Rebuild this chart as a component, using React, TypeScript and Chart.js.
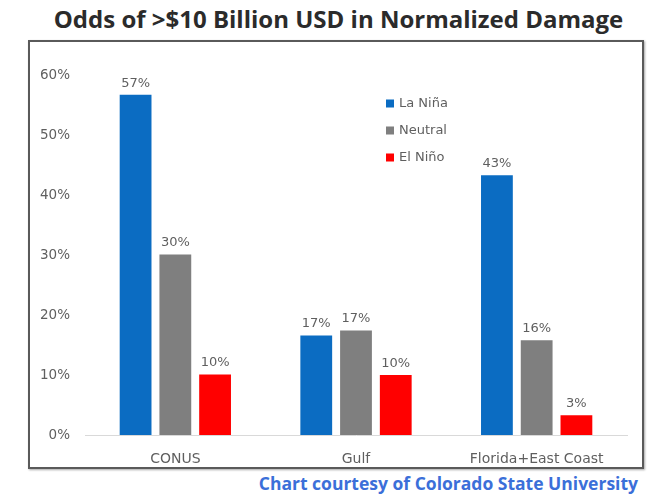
import React, { useEffect, useRef } from "react";
import { Chart, registerables } from "chart.js";

Chart.register(...registerables);

const chartTitle = "Odds of >$10 Billion USD in Normalized Damage";
const creditText = "Chart courtesy of Colorado State University";
const categories = ["CONUS", "Gulf", "Florida+East Coast"];
const seriesNames = ["La Niña", "Neutral", "El Niño"];
const laNinaValues = [56.7, 16.6, 43.3];
const neutralValues = [30.1, 17.4, 15.8];
const elNinoValues = [10.1, 10.0, 3.3];
const yTickValues = [0, 10, 20, 30, 40, 50, 60];

const seriesColors = ["#0b6cc2", "#7f7f7f", "#ff0000"];
const FONT = "'DejaVu Sans', sans-serif";
const HEAD_FONT = "'Open Sans', 'DejaVu Sans', sans-serif";
const TEXT_GRAY = "#5f5f5f";

const valueLabelPlugin = {
  id: "valueLabels",
  afterDatasetsDraw(chart: any) {
    const ctx = chart.ctx;
    ctx.save();
    ctx.font = `13px ${FONT}`;
    ctx.fillStyle = TEXT_GRAY;
    ctx.textAlign = "center";
    ctx.textBaseline = "bottom";
    chart.data.datasets.forEach((ds: any, i: number) => {
      const meta = chart.getDatasetMeta(i);
      meta.data.forEach((el: any, j: number) => {
        ctx.fillText(Math.round(ds.data[j]) + "%", el.x, el.y - 5);
      });
    });
    ctx.restore();
  },
};

const innerLegendPlugin = {
  id: "innerLegend",
  afterDraw(chart: any) {
    const ctx = chart.ctx;
    const area = chart.chartArea;
    ctx.save();
    ctx.font = `13px ${FONT}`;
    ctx.textAlign = "left";
    ctx.textBaseline = "middle";
    chart.data.datasets.forEach((ds: any, i: number) => {
      const cy = area.top + 28.5 + i * 27;
      const sx = area.left + 301;
      ctx.fillStyle = ds.backgroundColor;
      ctx.fillRect(sx, cy - 4, 8, 8);
      ctx.fillStyle = TEXT_GRAY;
      ctx.fillText(ds.label, sx + 13, cy);
    });
    ctx.restore();
  },
};

function BarChart() {
  const ref = useRef<HTMLCanvasElement>(null);
  useEffect(() => {
    if (!ref.current) return;
    const seriesData = [laNinaValues, neutralValues, elNinoValues];
    const chart = new Chart(ref.current, {
      type: "bar",
      data: {
        labels: categories,
        datasets: seriesNames.map((name, i) => ({
          label: name,
          data: seriesData[i],
          backgroundColor: seriesColors[i],
          borderWidth: 0,
          categoryPercentage: 0.66,
          barPercentage: 0.8,
        })),
      },
      options: {
        animation: false,
        responsive: false,
        maintainAspectRatio: false,
        layout: { padding: { top: 33, right: 15, bottom: 0, left: 0 } },
        plugins: {
          legend: { display: false },
          tooltip: { enabled: false },
          title: { display: false },
        },
        scales: {
          x: {
            grid: { display: false, drawTicks: false },
            border: { display: true, color: "#d9d9d9", width: 1 },
            ticks: {
              font: { family: FONT, size: 14 },
              color: TEXT_GRAY,
              padding: 16,
              maxRotation: 0,
            },
            afterFit(scale: any) {
              scale.height = 32;
            },
          },
          y: {
            min: 0,
            max: 60,
            grid: { display: false, drawTicks: false },
            border: { display: false },
            ticks: {
              font: { family: FONT, size: 13.5 },
              color: TEXT_GRAY,
              padding: 15,
              callback: (v: any) => v + "%",
            },
            afterBuildTicks(scale: any) {
              scale.ticks = yTickValues.map((v) => ({ value: v }));
            },
            afterFit(scale: any) {
              scale.width = 55;
            },
          },
        },
      },
      plugins: [valueLabelPlugin, innerLegendPlugin],
    });
    return () => chart.destroy();
  }, []);
  return (
    <canvas
      ref={ref}
      width={612}
      height={425}
      style={{ position: "absolute", left: 0, top: 0, width: 612, height: 425 }}
    />
  );
}

export default function App() {
  return (
    <div
      style={{
        position: "absolute",
        left: 0,
        top: 0,
        width: 649,
        height: 496,
        background: "#ffffff",
        overflow: "hidden",
      }}
    >
      <div
        style={{
          position: "absolute",
          left: 0,
          top: 7,
          width: 677,
          textAlign: "center",
          fontFamily: HEAD_FONT,
          fontWeight: 700,
          fontSize: 24,
          lineHeight: "24px",
          color: "#2b2b2b",
          whiteSpace: "nowrap",
        }}
      >
        {chartTitle}
      </div>
      <div
        style={{
          position: "absolute",
          left: 28,
          top: 40,
          width: 612,
          height: 425,
          border: "2px solid #5a5a5a",
          boxShadow: "1px 1px 2px rgba(0,0,0,0.35)",
        }}
      >
        <BarChart />
      </div>
      <div
        style={{
          position: "absolute",
          right: 11,
          top: 475,
          fontFamily: HEAD_FONT,
          fontWeight: 700,
          fontSize: 17.5,
          lineHeight: "17px",
          color: "#3b6fd9",
          whiteSpace: "nowrap",
        }}
      >
        {creditText}
      </div>
    </div>
  );
}
